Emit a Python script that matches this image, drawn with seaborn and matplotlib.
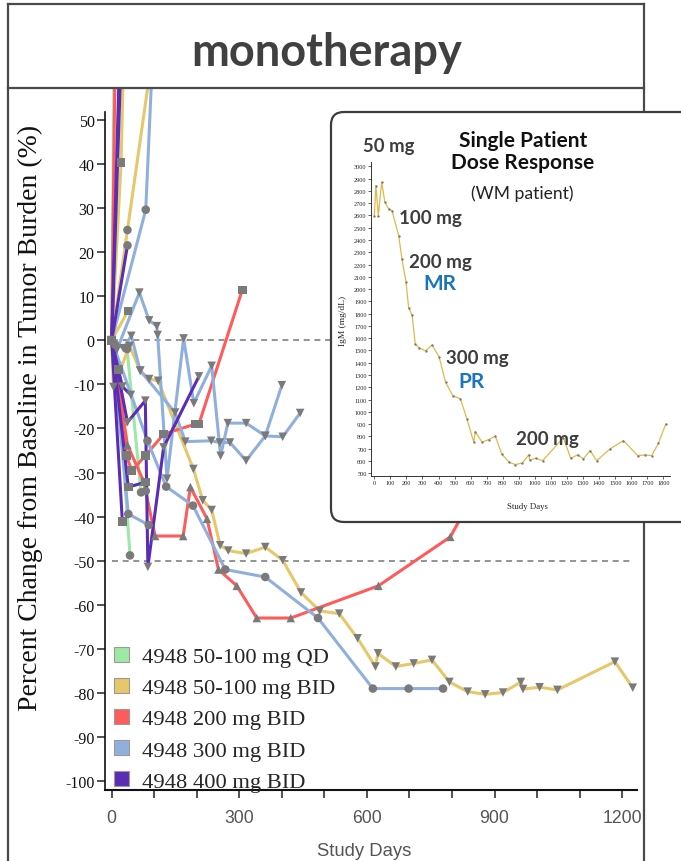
import numpy as np
import pandas as pd
import matplotlib
matplotlib.use("Agg")
import matplotlib.pyplot as plt
import seaborn as sns
from matplotlib.patches import Patch, FancyBboxPatch
from matplotlib.lines import Line2D

# ---------------- data ----------------
groups = ["4948 50-100 mg QD", "4948 50-100 mg BID", "4948 200 mg BID",
          "4948 300 mg BID", "4948 400 mg BID"]
group_colors = ["#9de8a5", "#e6c76a", "#ff5b5b", "#8fb0dc", "#5a2db5"]

qd_days = [[0, 8], [0, 8, 43], [0, 36, 69, 80]]
qd_pct = [[0, 90], [0, -1, -48.8], [0, -2, -34.5, -34.2]]
qd_mk = ["o", "o", "o"]

bid_days = [[0, 22, 32], [0, 37, 96], [0, 38],
            [0, 4, 42, 67, 88, 109, 192, 214, 235, 255, 274, 316, 361, 402, 445,
             489, 535, 578, 620, 626, 668, 710, 753, 794, 837, 878, 920, 962,
             967, 1006, 1048, 1183, 1225]]
bid_pct = [[0, 40.3, 80], [0, 25, 65], [0, 6.6],
           [0, -10.6, -1.3, -6.9, -8.8, -9.2, -29.2, -36.3, -38.5, -46.5, -47.7,
            -48.4, -46.9, -49.9, -57.2, -61.4, -62, -67.6, -74, -71, -74, -73.3,
            -72.5, -77.5, -79.7, -80.3, -79.9, -77.5, -79.1, -78.7, -79.3, -72.9,
            -78.8]]
bid_mk = ["s", "o", "s", "v"]

d200_days = [[0, 10], [0, 16, 35, 47, 79, 122, 197, 205, 307],
             [0, 37, 75, 102, 168, 185, 224, 251, 294, 341, 421, 627, 796, 880]]
d200_pct = [[0, 80], [0, -6.6, -26.2, -29.6, -26.2, -21.3, -19, -19, 11.4],
            [0, -23.8, -32, -44.4, -44.4, -33.3, -40.5, -52, -55.7, -63, -63,
             -55.7, -44.6, -30]]
d200_mk = ["s", "s", "^"]

d300_days = [[0, 80, 94],
             [0, 84, 128, 191, 267, 361, 485, 614, 698, 779],
             [0, 12, 65, 88, 106, 108, 130, 169, 193, 235, 256, 273, 316, 361,
              402, 443],
             [0, 27, 46, 67, 149, 173, 234, 254, 278, 316, 361, 400],
             [0, 39, 87]]
d300_pct = [[0, 29.6, 60],
            [0, -22.8, -33.2, -37.5, -52, -53.7, -63, -79, -79, -79],
            [0, -2.2, 10.8, 4.5, 3.2, 1.2, -31.4, 0.4, -14.3, -5.8, -26.2, -18.8,
             -18.8, -21.7, -21.9, -16.5],
            [0, -1.8, 1, -6.9, -16.4, -23, -22.8, -23.2, -23.2, -27.3, -21.7,
             -10.2],
            [0, -39.4, -41.9]]
d300_mk = ["o", "o", "v", "v", "o"]

d400_days = [[0, 24], [0, 20], [0, 37], [0, 25], [0, 37, 79, 85, 122, 205],
             [0, 39, 79], [0, 25, 45]]
d400_pct = [[0, 70], [0, 70], [0, 21.5], [0, -41.1],
            [0, -18.6, -13.7, -51.4, -24.3, -8.2], [0, -33.3, -32.2],
            [0, -10.5, -12.4]]
d400_mk = ["s", "s", "o", "s", "v", "s", "v"]

igm_days = [0, 10, 25, 46, 66, 89, 110, 152, 172, 197, 214, 235, 255, 276, 320,
            359, 403, 444, 488, 536, 577, 619, 629, 671, 712, 754, 793, 839, 878,
            922, 963, 967, 1005, 1048, 1177, 1223, 1266, 1302, 1343, 1385, 1468,
            1551, 1640, 1686, 1727, 1769, 1815]
igm_vals = [2593, 2843, 2598, 2870, 2707, 2653, 2639, 2435, 2245, 2061, 1847,
            1790, 1553, 1524, 1497, 1545, 1451, 1241, 1133, 1106, 943, 753, 840,
            753, 775, 802, 658, 590, 571, 584, 652, 609, 623, 603, 790, 622, 650,
            617, 685, 603, 699, 766, 644, 650, 644, 745, 902]

x_ticks = [0, 300, 600, 900, 1200]
y_ticks = list(range(-100, 51, 10))

# ---------------- build frame ----------------
rows = []
all_days = [qd_days, bid_days, d200_days, d300_days, d400_days]
all_pct = [qd_pct, bid_pct, d200_pct, d300_pct, d400_pct]
all_mk = [qd_mk, bid_mk, d200_mk, d300_mk, d400_mk]
for g, dl, pl, ml in zip(groups, all_days, all_pct, all_mk):
    for i, (d, p, m) in enumerate(zip(dl, pl, ml)):
        for dd, pp in zip(d, p):
            rows.append(dict(group=g, patient=f"{g}#{i}", day=dd, pct=pp, marker=m))
df = pd.DataFrame(rows)

# ---------------- figure ----------------
sns.set_style("ticks")
plt.rcParams["font.family"] = ["DejaVu Sans"]
W, H = 681, 862
fig = plt.figure(figsize=(W / 100, H / 100), dpi=100)
fig.patch.set_facecolor("white")


def fx(x):
    return x / W


def fy(y):
    return 1 - y / H


ax = fig.add_axes([fx(105), fy(791), fx(637) - fx(105), fy(89) - fy(791)])
ax.set_facecolor("none")

ax.hlines([0, -50], 0, 1228, colors="#8a8a8a", linestyles=(0, (3.3, 2.6)),
          lw=1.3, zorder=1.5)

sns.lineplot(data=df, x="day", y="pct", hue="group", hue_order=groups,
             palette=dict(zip(groups, group_colors)), units="patient",
             estimator=None, sort=False, lw=2.2, legend=False, ax=ax,
             solid_joinstyle="miter")
sns.scatterplot(data=df, x="day", y="pct", style="marker",
                markers={"v": "v", "s": "s", "o": "o", "^": "^"},
                color="#7a7a7a", s=38, linewidth=0, legend=False, ax=ax,
                zorder=3)

ax.set_xlim(-15.8, 1235)
ax.set_ylim(-102, 57.2)
sns.despine(ax=ax)
ax.spines["left"].set_bounds(-102, 51.8)
ax.spines["left"].set_linewidth(1.2)
ax.spines["bottom"].set_linewidth(1.5)
ax.spines["left"].set_color("#111")
ax.spines["bottom"].set_color("#111")

ax.set_xticks(x_ticks)
ax.set_xticklabels([str(v) for v in x_ticks], fontfamily="Liberation Sans",
                   fontsize=12.7, color="#555555")
ax.set_xticks(list(range(0, 1201, 100)), minor=True)
ax.tick_params(axis="x", which="both", length=6, width=1.1, color="#222",
               pad=8)
ax.set_yticks(y_ticks)
ax.set_yticklabels([str(v) for v in y_ticks], fontfamily="Liberation Serif",
                   fontsize=11.5, color="#111")
ax.tick_params(axis="y", length=6, width=1.1, color="#222", pad=1.5)

ax.set_xlabel("Study Days", fontfamily="Liberation Sans", fontsize=13.3,
              color="#555555", va="center")
ax.xaxis.set_label_coords(0.487, -0.086)
ax.set_ylabel("Percent Change from Baseline in Tumor Burden (%)",
              fontfamily="Liberation Serif", fontsize=20, color="#111",
              va="center")
ax.yaxis.set_label_coords(-0.141, 0.531)

handles = [Patch(facecolor=c, edgecolor="#9a9a9a", lw=0.8) for c in group_colors]
leg = ax.legend(handles, groups, loc="upper left", bbox_to_anchor=(0.0175, 0.204),
                frameon=False, borderpad=0, borderaxespad=0,
                handlelength=0.64, handleheight=0.64, handletextpad=0.57,
                labelspacing=0.48,
                prop={"family": "Liberation Serif", "size": 16.2})

# ---------------- outer frame ----------------
fc = "#4a4a4a"
for (x0, y0, x1, y1) in [(8, 5, 8, 862), (644, 5, 644, 862), (8, 5, 644, 5),
                         (8, 89, 644, 89)]:
    fig.add_artist(Line2D([fx(x0), fx(x1)], [fy(y0), fy(y1)], color=fc, lw=1.6,
                          zorder=4, solid_capstyle="projecting"))
fig.text(fx(327), fy(66), "monotherapy", fontfamily="Lato", fontweight="bold",
         fontsize=32.5, color="#404040", ha="center", va="baseline", zorder=4)

# ---------------- inset ----------------
box = FancyBboxPatch((3.31, (H - 523) / 100), 3.7, (523 - 113) / 100,
                     boxstyle="round,pad=0,rounding_size=0.13",
                     transform=fig.dpi_scale_trans, facecolor="white",
                     edgecolor="#3c3c3c", lw=1.6, zorder=5)
fig.add_artist(box)

iax = fig.add_axes([fx(370.7), fy(477), fx(670) - fx(370.7), fy(163) - fy(477)])
iax.set_zorder(6)
iax.set_facecolor("none")
sns.lineplot(x=igm_days, y=igm_vals, ax=iax, color="#e2b84a", lw=0.9,
             marker="o", markersize=1.7, markerfacecolor="#777",
             markeredgewidth=0)
iax.set_xlim(-22.4, 1841)
iax.set_ylim(478, 3035)
sns.despine(ax=iax)
for s in ["left", "bottom"]:
    iax.spines[s].set_linewidth(0.7)
    iax.spines[s].set_color("#333")
ix = list(range(0, 1801, 100))
iy = list(range(500, 3001, 100))
iax.set_xticks(ix)
iax.set_xticklabels([str(v) for v in ix], fontfamily="Liberation Serif",
                    fontsize=4.5)
iax.set_yticks(iy)
iax.set_yticklabels([str(v) for v in iy], fontfamily="Liberation Serif",
                    fontsize=4.5)
iax.tick_params(length=2, width=0.5, pad=1, colors="#222")
iax.set_xlabel("Study Days", fontfamily="Liberation Serif", fontsize=6.3,
               va="center")
iax.xaxis.set_label_coords(0.525, -0.095)
iax.set_ylabel("IgM (mg/dL)", fontfamily="Liberation Serif", fontsize=6.8,
               va="center")
iax.yaxis.set_label_coords(-0.0916, 0.498)

tk = dict(fontfamily="Lato", fontweight="bold", ha="center", va="center",
          zorder=7)
fig.text(fx(388.3), fy(146.7), "50 mg", fontsize=13.3, color="#3d3d3d", **tk)
fig.text(fx(522.7), fy(140.7), "Single Patient", fontsize=15, color="#111", **tk)
fig.text(fx(522.7), fy(163.3), "Dose Response", fontsize=15, color="#111", **tk)
fig.text(fx(522.7), fy(193.3), "(WM patient)", fontsize=12.6, color="#222",
         fontfamily="Lato", ha="center", va="center", zorder=7)
fig.text(fx(430), fy(218.3), "100 mg", fontsize=13.5, color="#3d3d3d", **tk)
fig.text(fx(440), fy(262.3), "200 mg", fontsize=13.5, color="#3d3d3d", **tk)
fig.text(fx(440), fy(284), "MR", fontsize=15, color="#1b75bb", **tk)
fig.text(fx(477.3), fy(358.3), "300 mg", fontsize=13.5, color="#3d3d3d", **tk)
fig.text(fx(471.7), fy(381.7), "PR", fontsize=15, color="#1b75bb", **tk)
fig.text(fx(547.7), fy(439), "200 mg", fontsize=13.5, color="#3d3d3d", **tk)

fig.savefig("out.png", dpi=100)
